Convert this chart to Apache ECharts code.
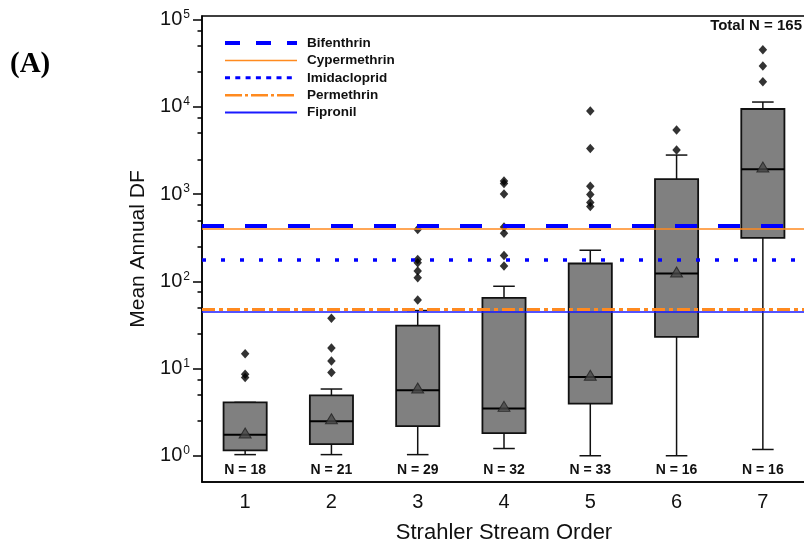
<!DOCTYPE html>
<html>
<head>
<meta charset="utf-8">
<script src="https://cdn.jsdelivr.net/npm/echarts@6/dist/echarts.min.js"></script>
<style>
html,body{margin:0;padding:0;background:#fff;}
#chart{width:804px;height:548px;}
</style>
</head>
<body>
<div id="chart"></div>
<script>
// ---- data ----
const categories = ['1', '2', '3', '4', '5', '6', '7'];
const whiskerLow  = [1.03, 1.03, 1.03, 1.21, 1.0, 1.0, 1.18];
const q1          = [1.15, 1.36, 2.19, 1.82, 3.95, 23.1, 315];
const median      = [1.74, 2.49, 5.64, 3.49, 7.98, 123, 1930];
const q3          = [4.09, 4.92, 31.1, 64.4, 160, 1480, 9440];
const whiskerHigh = [4.09, 5.82, 46.2, 87.7, 227, 2800, 11350];
const means       = [1.82, 2.66, 5.98, 3.68, 8.36, 128, 2040];
const outliers = [
  [14.8, 8.6, 7.9],
  [37.7, 17.2, 12.2, 9.0],
  [393, 178, 163, 131, 110, 61],
  [1410, 1320, 1000, 420, 355, 198, 150],
  [8950, 3340, 1230, 990, 800, 720],
  [5430, 3190],
  [45100, 29400, 19400]
];
const counts = [18, 21, 29, 32, 33, 16, 16];
const totalN = 165;
const thresholdNames  = ['Bifenthrin', 'Cypermethrin', 'Imidacloprid', 'Permethrin', 'Fipronil'];
const thresholdValues = [437, 403, 175, 48, 45];
const majorTicks = [1, 10, 100, 1000, 10000, 100000];
const minorTicks = [2.5, 5, 7.5, 25, 50, 75, 250, 500, 750, 2500, 5000, 7500, 25000, 50000, 75000];

// ---- styles ----
const FONT = '"Liberation Sans", Arial, sans-serif';
const BLUE = '#0000ff';
const ORANGE = '#ff8a1f';
const plotLineStyles = [
  { color: BLUE, width: 4, type: [22, 21] },
  { color: ORANGE, width: 1.5, type: 'solid' },
  { color: BLUE, width: 3.5, type: [4, 15] },
  { color: ORANGE, width: 3, type: [13, 4, 4, 4] },
  { color: '#1a1aff', width: 1.5, type: 'solid' }
];
const legendLineStyles = [
  { color: BLUE, width: 4, type: [15, 16] },
  { color: ORANGE, width: 1.5, type: 'solid' },
  { color: BLUE, width: 3, type: [5, 5.3] },
  { color: ORANGE, width: 2.5, type: [17, 3, 3, 3] },
  { color: '#1a1aff', width: 2, type: 'solid' }
];

const boxData = categories.map((c, i) => [i, whiskerLow[i], q1[i], median[i], q3[i], whiskerHigh[i]]);
const meanData = categories.map((c, i) => [i, means[i]]);
const outlierData = [];
outliers.forEach((arr, i) => arr.forEach(v => outlierData.push([i, v])));
const countData = categories.map((c, i) => [i, counts[i]]);
const N_LABEL_LEVEL = 0.68;

const lineSeries = thresholdNames.map((name, k) => ({
  name: name,
  type: 'line',
  data: [],
  symbol: 'none',
  z: 10,
  lineStyle: plotLineStyles[k],
  itemStyle: { color: plotLineStyles[k].color },
  markLine: {
    silent: true,
    symbol: ['none', 'none'],
    label: { show: false },
    lineStyle: plotLineStyles[k],
    emphasis: { disabled: true },
    data: [{ yAxis: thresholdValues[k] }]
  }
}));

const chart = echarts.init(document.getElementById('chart'), null, { renderer: 'canvas' });
const option = {
  animation: false,
  backgroundColor: '#ffffff',
  textStyle: { fontFamily: FONT },
  grid: {
    left: 202, top: 16, right: -2, bottom: 66,
    outerBoundsMode: 'none',
    containLabel: false,
    show: true, borderColor: '#000', borderWidth: 1.5, backgroundColor: 'transparent'
  },
  legend: {
    orient: 'vertical',
    left: 218, top: 31,
    itemWidth: 72, itemHeight: 14, itemGap: 3.4,
    selectedMode: false,
    itemStyle: { opacity: 0 },
    textStyle: { fontFamily: FONT, fontSize: 13.5, fontWeight: 'bold', color: '#111', padding: [0, 0, 0, 5] },
    data: thresholdNames.map((n, k) => ({ name: n, lineStyle: legendLineStyles[k], itemStyle: { opacity: 0 } }))
  },
  xAxis: {
    type: 'category',
    data: categories,
    boundaryGap: true,
    name: 'Strahler Stream Order',
    nameLocation: 'middle',
    nameGap: 40,
    nameTextStyle: { fontFamily: FONT, fontSize: 22, color: '#111' },
    axisLine: { lineStyle: { color: '#000', width: 1.5 } },
    axisTick: { alignWithLabel: true, length: 8, lineStyle: { color: '#000', width: 1.5 } },
    axisLabel: { fontFamily: FONT, fontSize: 20, color: '#111', margin: 10 },
    splitLine: { show: false }
  },
  yAxis: [{
    type: 'log',
    min: 0.5, max: 110000,
    name: 'Mean Annual DF',
    nameLocation: 'middle',
    nameRotate: 90,
    nameGap: 47,
    nameTextStyle: { fontFamily: FONT, fontSize: 21, color: '#111' },
    axisLine: { show: true, lineStyle: { color: '#000', width: 1.5 } },
    axisTick: { show: true, length: 9, customValues: majorTicks, lineStyle: { color: '#000', width: 1.5 } },
    axisLabel: {
      customValues: majorTicks,
      margin: 12,
      formatter: v => '{b|10}{s|' + Math.round(Math.log10(v)) + '}',
      rich: {
        b: { fontFamily: FONT, fontSize: 20, color: '#111' },
        s: { fontFamily: FONT, fontSize: 12, color: '#111', verticalAlign: 'top', padding: [0, 0, 10, 1] }
      }
    },
    splitLine: { show: false },
    minorTick: { show: false }
  }, {
    type: 'log',
    min: 0.5, max: 110000,
    position: 'left',
    axisLine: { show: false },
    axisTick: { show: true, length: 4.5, customValues: minorTicks, lineStyle: { color: '#000', width: 1.5 } },
    axisLabel: { show: false },
    splitLine: { show: false }
  }],
  graphic: [
    { type: 'text', left: 10, top: 50, style: { text: '(A)', font: 'bold 29px "Liberation Serif", "Times New Roman", serif', fill: '#000' } },
    { type: 'text', right: 2, top: 18, style: { text: 'Total N = ' + totalN, font: 'bold 15px ' + FONT, fill: '#111' } }
  ],
  series: [
    {
      type: 'custom',
      name: 'box',
      z: 2,
      data: boxData,
      encode: { x: 0, y: [1, 2, 3, 4, 5] },
      renderItem: function (params, api) {
        const i = api.value(0);
        const pLo = api.coord([i, api.value(1)]);
        const pQ1 = api.coord([i, api.value(2)]);
        const pMd = api.coord([i, api.value(3)]);
        const pQ3 = api.coord([i, api.value(4)]);
        const pHi = api.coord([i, api.value(5)]);
        const bw = api.size([1, 0])[0] * 0.5;
        const cw = bw * 0.5;
        const cx = pMd[0];
        const ls = { stroke: '#111', lineWidth: 1.5 };
        return {
          type: 'group',
          children: [
            { type: 'line', shape: { x1: cx, y1: pLo[1], x2: cx, y2: pQ1[1] }, style: ls },
            { type: 'line', shape: { x1: cx, y1: pQ3[1], x2: cx, y2: pHi[1] }, style: ls },
            { type: 'line', shape: { x1: cx - cw / 2, y1: pLo[1], x2: cx + cw / 2, y2: pLo[1] }, style: ls },
            { type: 'line', shape: { x1: cx - cw / 2, y1: pHi[1], x2: cx + cw / 2, y2: pHi[1] }, style: ls },
            { type: 'rect', shape: { x: cx - bw / 2, y: pQ3[1], width: bw, height: pQ1[1] - pQ3[1] },
              style: { fill: '#808080', stroke: '#111', lineWidth: 1.8 } },
            { type: 'line', shape: { x1: cx - bw / 2, y1: pMd[1], x2: cx + bw / 2, y2: pMd[1] },
              style: { stroke: '#000', lineWidth: 2 } }
          ]
        };
      }
    },
    {
      type: 'scatter',
      name: 'mean',
      z: 3,
      data: meanData,
      symbol: 'triangle',
      symbolSize: [12, 10],
      itemStyle: { color: '#474747', borderColor: '#222', borderWidth: 1 }
    },
    {
      type: 'scatter',
      name: 'outliers',
      z: 3,
      data: outlierData,
      symbol: 'diamond',
      symbolSize: [8.5, 9.5],
      itemStyle: { color: '#000' }
    },
    {
      type: 'custom',
      name: 'counts',
      z: 4,
      data: countData,
      encode: { x: 0 },
      renderItem: function (params, api) {
        const p = api.coord([api.value(0), N_LABEL_LEVEL]);
        return {
          type: 'text',
          x: p[0], y: p[1],
          style: { text: 'N = ' + api.value(1), align: 'center', verticalAlign: 'middle',
                   font: 'bold 14px ' + FONT, fill: '#111' }
        };
      }
    }
  ].concat(lineSeries)
};
chart.setOption(option);
</script>
</body>
</html>
